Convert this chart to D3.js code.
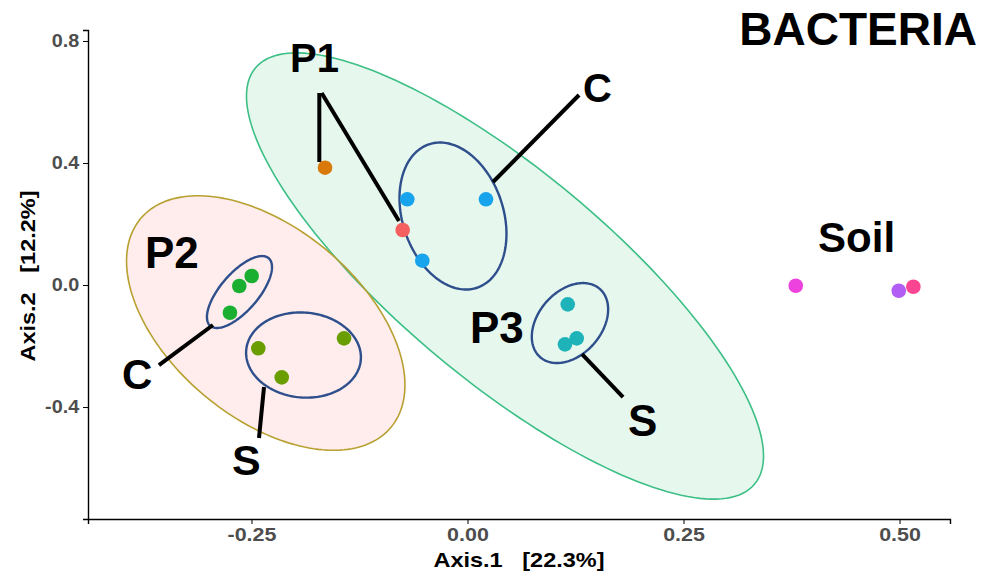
<html>
<head>
<title>PCoA | Bacteria</title>
<script src="https://d3js.org/d3.v7.min.js" charset="utf-8"></script>
<style>
body { margin: 0; background: white; }
text { font-family: "Liberation Sans", Arial, sans-serif; font-weight: bold; }
.axis text { fill: #4d4d4d; }
.axis path, .axis line { stroke: black; }
</style>
</head>
<body>
<script>
// chart values
var xTicks = [-0.25, 0, 0.25, 0.5];
var yTicks = [-0.4, 0, 0.4, 0.8];
var xLabel = "Axis.1   [22.3%]";
var yLabel = "Axis.2   [12.2%]";

// samples: group, axis1, axis2
var sampleGroup = ["P1", "P1", "P1C", "P1C", "P1C", "P2C", "P2C", "P2C", "P2S", "P2S", "P2S",
                   "P3S", "P3S", "P3S", "SoilA", "SoilB", "SoilC"];
var sampleX = [-0.1649, -0.0750, -0.0697, 0.0214, -0.0523, -0.2498, -0.2641, -0.2749,
               -0.2421, -0.2150, -0.1429, 0.1160, 0.1264, 0.1128, 0.3799, 0.4991, 0.5160];
var sampleY = [0.3846, 0.1803, 0.2810, 0.2810, 0.0797, 0.0295, -0.0033, -0.0908,
               -0.2075, -0.3026, -0.1748, -0.0633, -0.1748, -0.1944, -0.0023, -0.0187, -0.0056];
var sampleColor = ["#d9790a", "#f45f5f", "#17a4ec", "#17a4ec", "#17a4ec", "#1aaf30", "#1aaf30", "#1aaf30",
                   "#6a9e00", "#6a9e00", "#6a9e00", "#1db3b8", "#1db3b8", "#1db3b8", "#ee42df", "#b25ef4", "#fa4593"];

// ellipses: centre and two semi-axis vectors in axis units
var ellName = ["P1", "P2", "P1C", "P2C", "P2S", "P3S"];
var ellCx = [0.0434, -0.2335, -0.0168, -0.2639, -0.1898, 0.1186];
var ellCy = [0.0295, -0.1246, 0.2262, -0.0230, -0.2295, -0.1246];
var ellU = [[0.2889, -0.682], [0.1450, -0.3416], [0.0278, -0.2351], [0.0338, 0.1108], [0.0663, -0.0164], [0.0344, 0.1121]];
var ellV = [[-0.0778, -0.2643], [-0.0702, -0.2395], [-0.0553, -0.0525], [0.01655, -0.0403], [-0.0043, -0.1387], [0.0277, -0.0679]];

// annotation labels and leader lines (axis units)
var noteText = ["P1", "C", "Soil", "P2", "C", "S", "P3", "S"];
var noteX = [-0.2054, 0.1337, 0.4057, -0.3733, -0.3999, -0.2726, 0.0029, 0.1858];
var noteY = [0.6984, 0.6000, 0.1082, 0.0557, -0.3410, -0.6230, -0.1902, -0.4951];
var noteSize = [40, 40, 42, 44, 42, 43, 44, 44];
var leaders = [
  [[-0.1715, 0.6295], [-0.1715, 0.4033]],
  [[-0.1688, 0.6295], [-0.0793, 0.2098]],
  [[0.1291, 0.6230], [0.0295, 0.3377]],
  [[-0.3571, -0.2623], [-0.2946, -0.1311]],
  [[-0.2413, -0.5016], [-0.2355, -0.3344]],
  [[0.1325, -0.2262], [0.1800, -0.3672]]
];

var width = 981;
var height = 576;

var x = d3.scaleLinear().domain([-0.4392, 0.5584]).range([88, 950]);
var y = d3.scaleLinear().domain([-0.767, 0.836]).range([519, 30]);

var svg = d3.select("body").append("svg")
  .attr("width", width)
  .attr("height", height);

// group ellipses
var ellStyle = {
  P1: { fill: "#3cc07a", op: 0.13, stroke: "#3cbf85", w: 1.6 },
  P2: { fill: "#f8766d", op: 0.13, stroke: "#b8a030", w: 1.6 }
};
var line = d3.line().x(function(d) { return x(d[0]); }).y(function(d) { return y(d[1]); })
  .curve(d3.curveLinearClosed);
var ts = d3.range(0, 2 * Math.PI, Math.PI / 90);

var eg = svg.append("g");
ellName.forEach(function(n, i) {
  var pts = ts.map(function(t) {
    return [ellCx[i] + ellU[i][0] * Math.cos(t) + ellV[i][0] * Math.sin(t),
            ellCy[i] + ellU[i][1] * Math.cos(t) + ellV[i][1] * Math.sin(t)];
  });
  var st = ellStyle[n];
  eg.append("path")
    .attr("d", line(pts))
    .attr("fill", st ? st.fill : "none")
    .attr("fill-opacity", st ? st.op : 0)
    .attr("stroke", st ? st.stroke : "#2e4f8c")
    .attr("stroke-width", st ? st.w : 2.4);
});

// leader lines
svg.append("g").selectAll("line")
  .data(leaders)
  .enter()
  .append("line")
  .attr("x1", function(d) { return x(d[0][0]); })
  .attr("y1", function(d) { return y(d[0][1]); })
  .attr("x2", function(d) { return x(d[1][0]); })
  .attr("y2", function(d) { return y(d[1][1]); })
  .attr("stroke", "black")
  .attr("stroke-width", 4);

// points
svg.append("g").selectAll("circle")
  .data(sampleGroup)
  .enter()
  .append("circle")
  .attr("cx", function(d, i) { return x(sampleX[i]); })
  .attr("cy", function(d, i) { return y(sampleY[i]); })
  .attr("r", 7.3)
  .attr("fill", function(d, i) { return sampleColor[i]; });

// axes (text in the source is a bit stretched sideways)
var xAxis = svg.append("g")
  .attr("class", "axis")
  .attr("transform", "translate(0,519)")
  .call(d3.axisBottom(x).tickValues(xTicks).tickSizeOuter(0).tickSize(5).tickPadding(4)
    .tickFormat(function(d) { return d.toFixed(2); }));
xAxis.selectAll("text").style("font-size", "19px").attr("transform", "scale(1.13,1)");
xAxis.select(".domain").attr("stroke-width", 1.4);

var yAxis = svg.append("g")
  .attr("class", "axis")
  .attr("transform", "translate(88,0)")
  .call(d3.axisLeft(y).tickValues(yTicks).tickSizeOuter(0).tickSize(5).tickPadding(3)
    .tickFormat(function(d) { return d.toFixed(1); }));
yAxis.selectAll("text").style("font-size", "18px").attr("transform", "scale(1.1,1)");
yAxis.select(".domain").attr("stroke-width", 1.4);

svg.append("text")
  .attr("transform", "translate(519,567) scale(1.12,1)")
  .attr("text-anchor", "middle")
  .style("font-size", "21px")
  .style("white-space", "pre")
  .text(xLabel);

svg.append("text")
  .attr("transform", "translate(35,276) rotate(-90) scale(1.12,1)")
  .attr("text-anchor", "middle")
  .style("font-size", "21px")
  .style("white-space", "pre")
  .text(yLabel);

// annotations
svg.append("g").selectAll("text")
  .data(noteText)
  .enter()
  .append("text")
  .attr("x", function(d, i) { return x(noteX[i]); })
  .attr("y", function(d, i) { return y(noteY[i]); })
  .style("font-size", function(d, i) { return noteSize[i] + "px"; })
  .text(function(d) { return d; });

svg.append("text")
  .attr("x", 977).attr("y", 45)
  .attr("text-anchor", "end")
  .style("font-size", "46px")
  .text("BACTERIA");
</script>
</body>
</html>
